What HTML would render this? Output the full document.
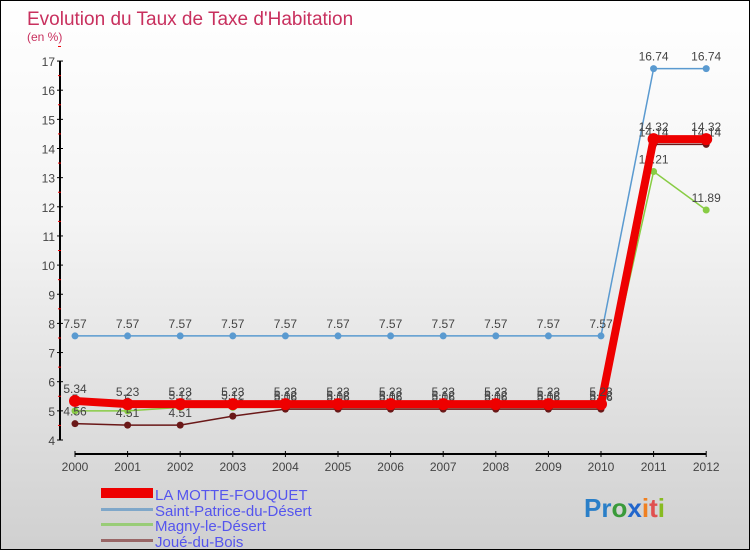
<!DOCTYPE html>
<html><head><meta charset="utf-8"><style>
body{margin:0;width:750px;height:550px;overflow:hidden;font-family:"Liberation Sans",sans-serif}
#wrap{position:relative;width:748px;height:548px;border:1px solid #000;background:linear-gradient(#fff,#f4f4f4 40%,#d0d0d0)}
</style></head><body>
<div id="wrap">
<svg id="chart" width="748" height="548">
<text x="26" y="24" font-size="19" fill="#c8305e">Evolution du Taux de Taxe d'Habitation</text>
<text x="26" y="40" font-size="12" fill="#c8305e">(en %)</text>
<g id="axes"></g><g id="series"></g>
<g>
<rect x="100" y="487" width="52" height="10" fill="#e00"/>
<text x="154" y="499" font-size="15" fill="#5555ee">LA MOTTE-FOUQUET</text>
<rect x="100" y="507" width="52" height="3" fill="#7fa7c9"/>
<text x="154" y="515" font-size="15" fill="#5555ee">Saint-Patrice-du-Désert</text>
<rect x="100" y="522" width="52" height="3" fill="#99cc77"/>
<text x="154" y="530" font-size="15" fill="#5555ee">Magny-le-Désert</text>
<rect x="100" y="538" width="52" height="3" fill="#996666"/>
<text x="154" y="546" font-size="15" fill="#5555ee">Joué-du-Bois</text>
</g>
<text x="583" y="516" font-size="26" font-weight="bold"><tspan fill="#2a7fc8">Pr</tspan><tspan fill="#3a9a3a">o</tspan><tspan fill="#2266cc">x</tspan><tspan fill="#f08020">i</tspan><tspan fill="#e05050">t</tspan><tspan fill="#88bb22">i</tspan></text>
</svg></div>
<script>
const years=[2000,2001,2002,2003,2004,2005,2006,2007,2008,2009,2010,2011,2012];
const yTicks=[4,5,6,7,8,9,10,11,12,13,14,15,16,17];
const motte=[5.34,5.23,5.23,5.23,5.23,5.23,5.23,5.23,5.23,5.23,5.23,14.32,14.32];
const patrice=[7.57,7.57,7.57,7.57,7.57,7.57,7.57,7.57,7.57,7.57,7.57,16.74,16.74];
const magny=[5,5,5.12,5.12,5.12,5.12,5.12,5.12,5.12,5.12,5.12,13.21,11.89];
const joue=[4.56,4.51,4.51,4.82,5.06,5.06,5.06,5.06,5.06,5.06,5.06,14.14,14.14];
const NS="http://www.w3.org/2000/svg";
const X=i=>74+i*52.6, Y=v=>439-(v-4)*29.15;
function mk(t,a,p){const e=document.createElementNS(NS,t);for(const k in a)e.setAttribute(k,a[k]);p.appendChild(e);return e;}
const ax=document.getElementById('axes'), sg=document.getElementById('series');
const yl=mk('line',{x1:59,y1:Y(17),x2:59,y2:Y(4),stroke:'#000','stroke-width':2},ax);


const xl=mk('line',{x1:X(0),y1:453,x2:X(12),y2:453,stroke:'#000','stroke-width':2},ax);


yTicks.forEach(v=>{
 mk('line',{x1:56,y1:Y(v),x2:62,y2:Y(v),stroke:'#000'},ax);
 mk('line',{x1:57,y1:Y(v+0.5),x2:60,y2:Y(v+0.5),stroke:'#e00'},ax);
 const t=mk('text',{x:54,y:Y(v)+5,'font-size':12,fill:'#444','text-anchor':'end'},ax);t.textContent=v;
 
 
});
years.forEach((yr,i)=>{
 mk('line',{x1:X(i),y1:450,x2:X(i),y2:456,stroke:'#000'},ax);
 const t=mk('text',{x:X(i),y:470,'font-size':12,fill:'#444','text-anchor':'middle'},ax);t.textContent=yr;
 
 
});
function series(d,col,w,r,name,lab){
 const p=mk('polyline',{points:d.map((v,i)=>X(i)+','+Y(v)).join(' '),fill:'none',stroke:col,'stroke-width':w},sg);
 
 
 d.forEach((v,i)=>{
  const c=mk('circle',{cx:X(i),cy:Y(v),r:r,fill:col},sg);
  
  
  const t=mk('text',{x:X(i),y:Y(v)+lab,'font-size':12,fill:'#444','text-anchor':'middle'},sg);
  t.textContent=String(v);
  
  
 });
}
series(patrice,'#5a9ad0',1.5,3.5,'saint-patrice',-8);
series(magny,'#88cc44',1.5,3.5,'magny',-8);
series(joue,'#6a1818',1.5,3.5,'joue',-8);
series(motte,'#ee0000',8,6,'motte',-8);
</script></body></html>
